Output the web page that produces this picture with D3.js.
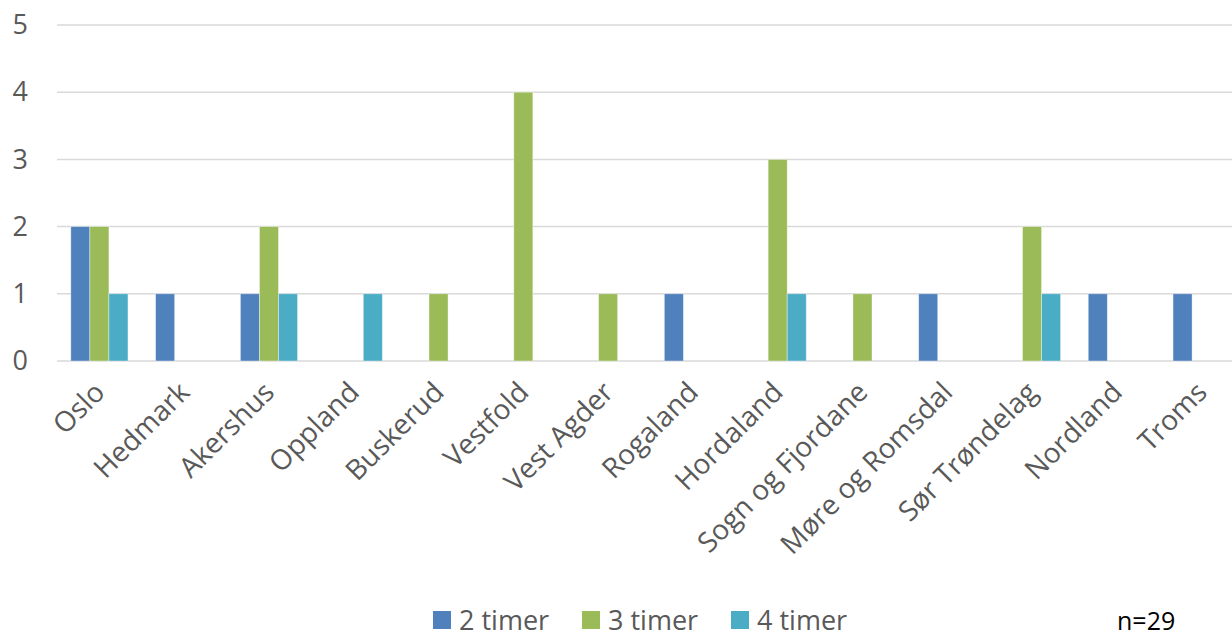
<!DOCTYPE html>
<html>
<head>
<meta charset="utf-8">
<script src="https://cdn.jsdelivr.net/npm/d3@7"></script>
<style>
  html, body { margin: 0; padding: 0; background: #fff; }
  svg { display: block; font-family: "Open Sans", sans-serif; }
</style>
</head>
<body>
<svg id="chart" width="1232" height="637"></svg>
<script>
// Fylker (counties)
const categories = ["Oslo", "Hedmark", "Akershus", "Oppland", "Buskerud", "Vestfold",
  "Vest Agder", "Rogaland", "Hordaland", "Sogn og Fjordane", "Møre og Romsdal",
  "Sør Trøndelag", "Nordland", "Troms"];

// Number of respondents per duration
const series = ["2 timer", "3 timer", "4 timer"];
const timer2 = [2, 1, 1, 0, 0, 0, 0, 1, 0, 0, 1, 0, 1, 1];
const timer3 = [2, 0, 2, 0, 1, 4, 1, 0, 3, 1, 0, 2, 0, 0];
const timer4 = [1, 0, 1, 1, 0, 0, 0, 0, 1, 0, 0, 1, 0, 0];
const yTicks = [0, 1, 2, 3, 4, 5];
const note = "n=29";

const colors = ["#4F81BD", "#9BBB59", "#4BACC6"];
const values = [timer2, timer3, timer4];

const svg = d3.select("#chart");
const W = 1232;
const plot = { left: 57, right: 1244, top: 25, bottom: 361 };

const x = d3.scaleBand().domain(categories).range([plot.left, plot.right]).paddingInner(0).paddingOuter(0);
const groupW = x.bandwidth() * 0.674;
const xs = d3.scaleBand().domain(series).range([0, groupW]);
const y = d3.scaleLinear().domain([0, 5]).range([plot.bottom, plot.top]);

// Gridlines
svg.append("g")
  .selectAll("line")
  .data(yTicks)
  .join("line")
  .attr("x1", plot.left)
  .attr("x2", W)
  .attr("y1", d => y(d))
  .attr("y2", d => y(d))
  .attr("stroke", "#d9d9d9")
  .attr("stroke-width", 1.5);

// Y axis labels
const yAxis = d3.axisLeft(y).tickValues(yTicks).tickSize(0).tickPadding(0).tickFormat(d3.format("d"));
const yg = svg.append("g").attr("transform", "translate(28,0)").call(yAxis);
yg.select(".domain").remove();
yg.selectAll("text")
  .attr("fill", "#595959")
  .style("font-size", "27px")
  .style("font-family", "'Open Sans', sans-serif");

// Bars
series.forEach((s, si) => {
  svg.append("g")
    .selectAll("rect")
    .data(categories.map((c, i) => ({ c, v: values[si][i] })).filter(d => d.v > 0))
    .join("rect")
    .attr("x", d => x(d.c) + (x.bandwidth() - groupW) / 2 + xs(s))
    .attr("width", xs.bandwidth())
    .attr("y", d => y(d.v))
    .attr("height", d => y(0) - y(d.v))
    .attr("fill", colors[si])
    .attr("stroke", "#ffffff")
    .attr("stroke-opacity", 0.5)
    .attr("stroke-width", 0.75);
});

// Rotated category labels
svg.append("g")
  .selectAll("text")
  .data(categories)
  .join("text")
  .attr("transform", d => `translate(${x(d) + x.bandwidth() / 2 + 7},${plot.bottom + 33}) rotate(-45)`)
  .attr("text-anchor", "end")
  .attr("fill", "#595959")
  .style("font-size", "28px")
  .text(d => d);

// Legend
const legendX = [433, 582, 731];
const lg = svg.append("g");
series.forEach((s, i) => {
  lg.append("rect")
    .attr("x", legendX[i]).attr("y", 611)
    .attr("width", 18).attr("height", 18)
    .attr("fill", colors[i]);
  lg.append("text")
    .attr("x", legendX[i] + 26).attr("y", 630)
    .attr("fill", "#595959")
    .style("font-size", "27px")
    .text(s);
});

svg.append("text")
  .attr("x", 1117).attr("y", 630)
  .attr("fill", "#000")
  .style("font-size", "25px")
  .text(note);
</script>
</body>
</html>
